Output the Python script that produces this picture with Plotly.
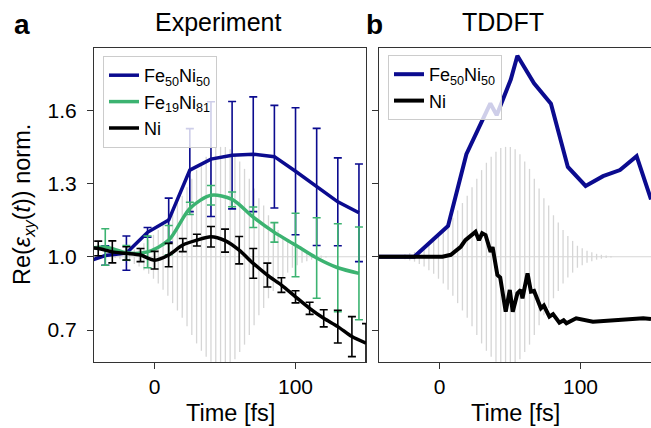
import plotly.graph_objects as go

# ---- panel a: experiment ----
t_fe50 = [-50, -35, -20, -5, 10, 25, 40, 55, 70, 85, 100, 115, 130, 145]
re_fe50 = [0.975, 1.005, 1.015, 1.10, 1.15, 1.355, 1.40, 1.416, 1.42, 1.41, 1.35, 1.286, 1.225, 1.18]
err_fe50 = [0.04, 0.04, 0.07, 0.02, 0.09, 0.17, 0.235, 0.22, 0.235, 0.21, 0.26, 0.24, 0.18, 0.2]

t_fe19 = [-50, -35, -20, -5, 10, 25, 40, 55, 70, 85, 100, 115, 130, 145]
re_fe19 = [1.03, 1.04, 1.016, 1.02, 1.068, 1.198, 1.252, 1.235, 1.162, 1.10, 1.048, 0.995, 0.955, 0.932]
err_fe19 = [0.07, 0.075, 0.03, 0.065, 0.06, 0.025, 0.04, 0.03, 0.042, 0.04, 0.13, 0.165, 0.18, 0.19]

t_ni = [-50, -40, -30, -20, -10, 0, 10, 20, 30, 40, 50, 60, 70, 80, 90, 100, 110, 120, 130, 140, 150]
re_ni = [1.04, 1.034, 1.02, 1.014, 1.007, 0.986, 1.007, 1.048, 1.068, 1.082, 1.066, 1.027, 0.973,
         0.925, 0.884, 0.836, 0.789, 0.748, 0.714, 0.673, 0.646]
err_ni = [0.03, 0.03, 0.045, 0.027, 0.027, 0.036, 0.048, 0.027, 0.024, 0.042, 0.047, 0.056, 0.061,
          0.049, 0.03, 0.025, 0.025, 0.035, 0.067, 0.082, 0.08]

# ---- panel b: TDDFT ----
t_th_fe50 = [-45, -18, 6, 19, 36, 40.5, 50.5, 55.2, 67, 79, 91, 103.6, 116, 128, 139.8, 150]
re_th_fe50 = [1.0, 1.0, 1.126, 1.42, 1.628, 1.58, 1.726, 1.823, 1.71, 1.627, 1.368, 1.29, 1.33,
              1.355, 1.412, 1.235]

t_th_ni = [-45, 2, 8, 12.4, 15, 18.3, 21.7, 25.5, 27.9, 30.2, 32.6, 36.2, 37.6, 41, 43, 46.9,
           49.8, 51.9, 55.2, 57.6, 58.8, 62.4, 64.8, 67, 71.9, 74, 77.9, 80.5, 85, 88, 90,
           96.9, 108.8, 120, 132, 144.5, 150]
re_th_ni = [1.0, 1.0, 1.008, 1.027, 1.041, 1.068, 1.082, 1.102, 1.068, 1.096, 1.089, 1.02, 1.04,
            0.925, 0.915, 0.775, 0.864, 0.775, 0.85, 0.864, 0.83, 0.932, 0.857, 0.86, 0.789,
            0.8, 0.755, 0.765, 0.73, 0.74, 0.728, 0.748, 0.734, 0.738, 0.742, 0.748, 0.745]

# ---- pump pulse (gray background), amplitude of each oscillation line ----
pulse_t0 = -28.0
pulse_step = 3.4
pulse_amp = [0.005, 0.01, 0.015, 0.02, 0.03, 0.04, 0.055, 0.07, 0.09, 0.11, 0.135, 0.16, 0.19,
             0.22, 0.25, 0.285, 0.32, 0.355, 0.385, 0.41, 0.43, 0.445, 0.45, 0.45, 0.44, 0.42,
             0.39, 0.36, 0.32, 0.28, 0.24, 0.21, 0.17, 0.14, 0.11, 0.085, 0.065, 0.045, 0.035,
             0.025, 0.018, 0.012, 0.008, 0.005, 0.003]

BLUE = '#0b0b8f'
GREEN = '#3cb371'
GRAY = '#d6d6d6'
FONT = 'Liberation Sans, Arial, sans-serif'

px, py = [], []
for i, a in enumerate(pulse_amp):
    t = pulse_t0 + i * pulse_step
    px += [t, t, None]
    py += [1 - a, 1 + a, None]

fig = go.Figure()

for xa, ya in [('x', 'y'), ('x2', 'y2')]:
    fig.add_trace(go.Scatter(x=[-45, 152], y=[1, 1], mode='lines', line=dict(color=GRAY, width=1),
                             xaxis=xa, yaxis=ya, showlegend=False, hoverinfo='skip'))
    fig.add_trace(go.Scatter(x=px, y=py, mode='lines', line=dict(color=GRAY, width=1.3),
                             xaxis=xa, yaxis=ya, showlegend=False, hoverinfo='skip'))


def exp_trace(t, v, e, color, name, shape):
    return go.Scatter(x=t, y=v, mode='lines', name=name,
                      line=dict(color=color, width=3.5, shape=shape, smoothing=0.8),
                      error_y=dict(type='data', array=e, color=color, thickness=1.6, width=4),
                      xaxis='x', yaxis='y', legend='legend')


fig.add_trace(exp_trace(t_fe50, re_fe50, err_fe50, BLUE, 'Fe<sub>50</sub>Ni<sub>50</sub>', 'linear'))
fig.add_trace(exp_trace(t_fe19, re_fe19, err_fe19, GREEN, 'Fe<sub>19</sub>Ni<sub>81</sub>', 'spline'))
fig.add_trace(exp_trace(t_ni, re_ni, err_ni, 'black', 'Ni', 'spline'))

fig.add_trace(go.Scatter(x=t_th_fe50, y=re_th_fe50, mode='lines', name='Fe<sub>50</sub>Ni<sub>50</sub>',
                         line=dict(color=BLUE, width=4), xaxis='x2', yaxis='y2', legend='legend2'))
fig.add_trace(go.Scatter(x=t_th_ni, y=re_th_ni, mode='lines', name='Ni',
                         line=dict(color='black', width=4), xaxis='x2', yaxis='y2', legend='legend2'))

axis_common = dict(range=[-43, 150], showline=True, mirror=True, linecolor='#333', linewidth=1.2,
                   ticks='outside', ticklen=6, tickwidth=1.2, tickcolor='#333', showgrid=False,
                   zeroline=False, tickvals=[0, 100], tickfont=dict(size=21, color='black'))
yaxis_common = dict(range=[0.569, 1.855], showline=True, mirror=True, linecolor='#333', linewidth=1.2,
                    ticks='outside', ticklen=6, tickwidth=1.2, tickcolor='#333', showgrid=False,
                    zeroline=False, tickvals=[0.7, 1.0, 1.3, 1.6], tickformat='.1f',
                    tickfont=dict(size=21, color='black'))

legend_common = dict(font=dict(size=18, family=FONT, color='black'), bgcolor='rgba(255,255,255,0.8)',
                     bordercolor='#cccccc', borderwidth=1, xanchor='left', yanchor='top',
                     tracegroupgap=0, itemwidth=30)

fig.update_layout(
    width=651, height=428,
    margin=dict(l=0, r=0, t=0, b=0),
    paper_bgcolor='white', plot_bgcolor='white',
    font=dict(family=FONT, color='black'),
    xaxis=dict(domain=[94 / 651, 366 / 651], anchor='y', **axis_common),
    yaxis=dict(domain=[1 - 362 / 428, 1 - 48 / 428], anchor='x', ticklabelstandoff=6, **yaxis_common),
    xaxis2=dict(domain=[379 / 651, 1.0], anchor='y2', **axis_common),
    yaxis2=dict(domain=[1 - 362 / 428, 1 - 48 / 428], anchor='x2', showticklabels=False, **yaxis_common),
    legend=dict(x=103 / 651, y=1 - 56 / 428, **legend_common),
    legend2=dict(x=388 / 651, y=1 - 55 / 428, **legend_common),
    showlegend=True,
)

annotations = [
    dict(text='Experiment', x=218 / 651, y=1 - 22 / 428, font=dict(size=25)),
    dict(text='TDDFT', x=503 / 651, y=1 - 22 / 428, font=dict(size=25)),
    dict(text='<b>a</b>', x=22 / 651, y=1 - 24 / 428, font=dict(size=28)),
    dict(text='<b>b</b>', x=375 / 651, y=1 - 24 / 428, font=dict(size=28)),
    dict(text='Time [fs]', x=230 / 651, y=1 - 413 / 428, font=dict(size=23.5)),
    dict(text='Time [fs]', x=515 / 651, y=1 - 413 / 428, font=dict(size=23.5)),
    dict(text='Re(<i>ε</i><sub><i>xy</i></sub>(<i>t</i>)) norm.', x=23 / 651, y=1 - 205 / 428,
         textangle=-90, font=dict(size=23.5)),
]
for a in annotations:
    fig.add_annotation(xref='paper', yref='paper', showarrow=False, xanchor='center', yanchor='middle',
                       font_color='black', **a)

fig.write_html("out.html", config={'displayModeBar': False},
               post_script="document.body.style.margin='0';document.body.style.overflow='hidden';")
